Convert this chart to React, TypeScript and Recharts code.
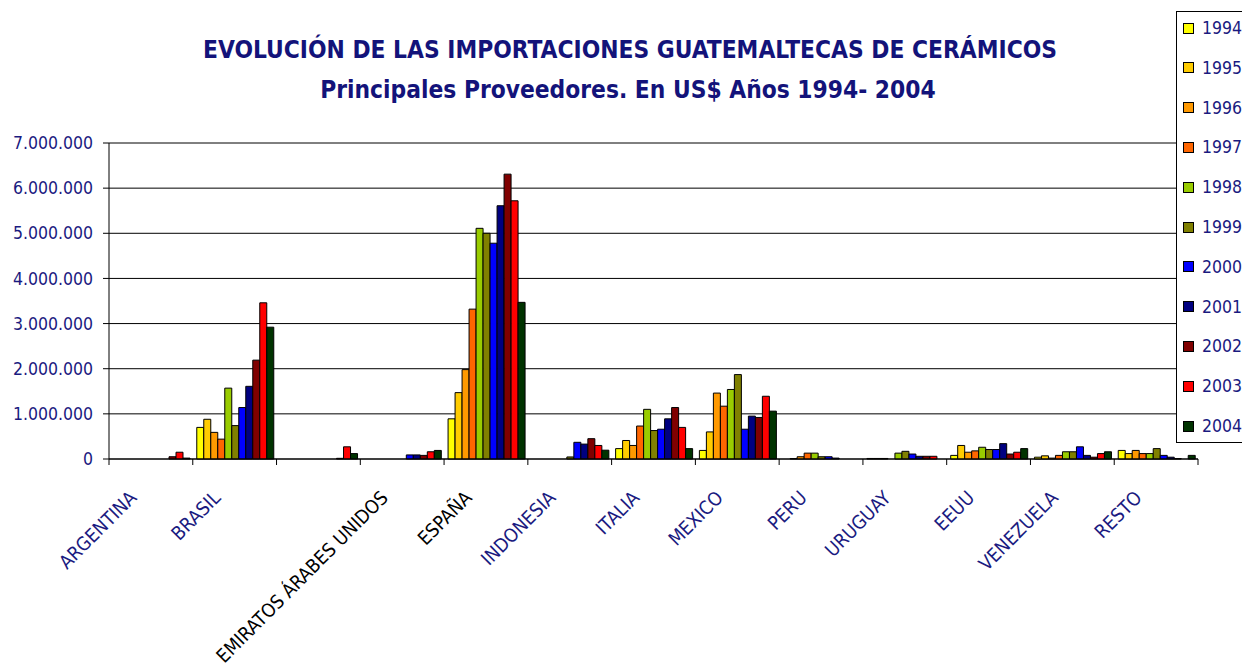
import { BarChart, Bar, XAxis, YAxis, CartesianGrid } from "recharts";

// países (la 3ª categoría no trae rótulo en el original)
const paises = [
  "ARGENTINA",
  "BRASIL",
  "",
  "EMIRATOS ÁRABES UNIDOS",
  "ESPAÑA",
  "INDONESIA",
  "ITALIA",
  "MEXICO",
  "PERU",
  "URUGUAY",
  "EEUU",
  "VENEZUELA",
  "RESTO",
];

const anios = ["1994", "1995", "1996", "1997", "1998", "1999", "2000", "2001", "2002", "2003", "2004"];

const colores = [
  "#FFFF00",
  "#FFCC00",
  "#FF9900",
  "#FF6600",
  "#99CC00",
  "#808000",
  "#0000FF",
  "#000080",
  "#800000",
  "#FF0000",
  "#003300",
];

// valores en US$ por año, en el orden de "paises"
const v1994 = [0, 700000, 0, 0, 890000, 0, 230000, 190000, 0, 12000, 80000, 40000, 190000];
const v1995 = [0, 880000, 0, 0, 1470000, 0, 410000, 600000, 10000, 12000, 300000, 70000, 120000];
const v1996 = [0, 590000, 0, 0, 1980000, 0, 300000, 1460000, 50000, 12000, 150000, 20000, 190000];
const v1997 = [0, 440000, 0, 0, 3320000, 0, 730000, 1170000, 130000, 0, 180000, 80000, 120000];
const v1998 = [0, 1570000, 0, 0, 5110000, 0, 1100000, 1540000, 130000, 130000, 260000, 160000, 120000];
const v1999 = [0, 740000, 0, 0, 5000000, 45000, 630000, 1870000, 50000, 170000, 210000, 160000, 230000];
const v2000 = [0, 1140000, 0, 90000, 4780000, 370000, 660000, 660000, 50000, 110000, 210000, 270000, 80000];
const v2001 = [0, 1610000, 0, 90000, 5610000, 330000, 890000, 950000, 20000, 60000, 340000, 80000, 40000];
const v2002 = [50000, 2190000, 15000, 80000, 6310000, 450000, 1140000, 920000, 0, 60000, 110000, 40000, 10000];
const v2003 = [150000, 3460000, 270000, 160000, 5720000, 300000, 700000, 1390000, 0, 60000, 150000, 120000, 0];
const v2004 = [20000, 2920000, 120000, 190000, 3470000, 195000, 230000, 1060000, 0, 0, 230000, 160000, 80000];

const series = [v1994, v1995, v1996, v1997, v1998, v1999, v2000, v2001, v2002, v2003, v2004];

const yTicks = [0, 1000000, 2000000, 3000000, 4000000, 5000000, 6000000, 7000000];

const data = paises.map((pais, i) => {
  const row: Record<string, string | number> = { pais };
  anios.forEach((a, k) => {
    row[a] = series[k][i];
  });
  return row;
});

const NAVY = "#1a1a80";
const TITLE = "#13137a";
const FONT = "'DejaVu Sans Condensed', 'DejaVu Sans', sans-serif";

const W = 1242;
const H = 670;
const M = { top: 143, right: 44, left: 0, bottom: 0 };
const Y_W = 109;
const PLOT_W = W - M.left - M.right - Y_W;
const BAND = PLOT_W / paises.length;

const fmt = (v: number) => String(v).replace(/\B(?=(\d{3})+(?!\d))/g, ".");

function PaisTick(props: any) {
  const { x, y, payload, index } = props;
  const half = BAND / 2;
  const negro = payload.value === "ESPAÑA" || payload.value.startsWith("EMIRATOS");
  return (
    <g>
      <line x1={x - half} x2={x - half} y1={y} y2={y + 6} stroke="#000" />
      {index === paises.length - 1 && (
        <line x1={x + half} x2={x + half} y1={y} y2={y + 6} stroke="#000" />
      )}
      <text
        transform={`translate(${x - 13},${y + 40}) rotate(-45)`}
        textAnchor="end"
        fontSize={19}
        fontFamily={FONT}
        fill={negro ? "#000" : NAVY}
      >
        {payload.value}
      </text>
    </g>
  );
}

function Leyenda() {
  return (
    <div
      style={{
        position: "absolute",
        left: 1176,
        top: 11,
        width: 80,
        height: 432,
        border: "1px solid #000",
        background: "#fff",
        boxSizing: "border-box",
      }}
    >
      {anios.map((a, k) => (
        <div
          key={a}
          style={{
            position: "absolute",
            left: 6,
            top: 6 + k * 39.8,
            height: 20,
            display: "flex",
            alignItems: "center",
            fontFamily: FONT,
            fontSize: 17.5,
            color: NAVY,
            whiteSpace: "nowrap",
          }}
        >
          <span
            style={{
              display: "inline-block",
              width: 9,
              height: 9,
              border: "1px solid #000",
              background: colores[k],
              marginRight: 8,
            }}
          />
          {a}
        </div>
      ))}
    </div>
  );
}

export default function App() {
  return (
    <div style={{ position: "absolute", left: 0, top: 0, width: W, height: H, background: "#fff", overflow: "hidden" }}>
      <svg width={W} height={120} style={{ position: "absolute", left: 0, top: 0 }}>
        <text x={630} y={58} textAnchor="middle" fontFamily={FONT} fontWeight="bold" fontSize={24.3} fill={TITLE}>
          EVOLUCIÓN DE LAS IMPORTACIONES GUATEMALTECAS DE CERÁMICOS
        </text>
        <text x={628} y={98} textAnchor="middle" fontFamily={FONT} fontWeight="bold" fontSize={24.3} fill={TITLE}>
          Principales Proveedores. En US$ Años 1994- 2004
        </text>
      </svg>
      <div style={{ position: "absolute", left: 0, top: 0 }}>
        <BarChart width={W} height={H} data={data} margin={M} barCategoryGap={4} barGap={0}>
          <CartesianGrid vertical={false} stroke="#000" strokeOpacity={1} />
          <XAxis
            dataKey="pais"
            height={H - M.top - 316}
            interval={0}
            tickSize={0}
            tickMargin={0}
            tickLine={false}
            axisLine={{ stroke: "#000" }}
            tick={<PaisTick />}
          />
          <YAxis
            width={Y_W}
            domain={[0, 7000000]}
            ticks={yTicks}
            interval={0}
            tickSize={6}
            tickMargin={10}
            tickFormatter={fmt}
            axisLine={{ stroke: "#000" }}
            tickLine={{ stroke: "#000" }}
            tick={{ fill: NAVY, fontSize: 17.5, fontFamily: FONT }}
          />
          {anios.map((a, k) => (
            <Bar key={a} dataKey={a} fill={colores[k]} stroke="#000" strokeWidth={1} isAnimationActive={false} />
          ))}
        </BarChart>
      </div>
      <Leyenda />
    </div>
  );
}
